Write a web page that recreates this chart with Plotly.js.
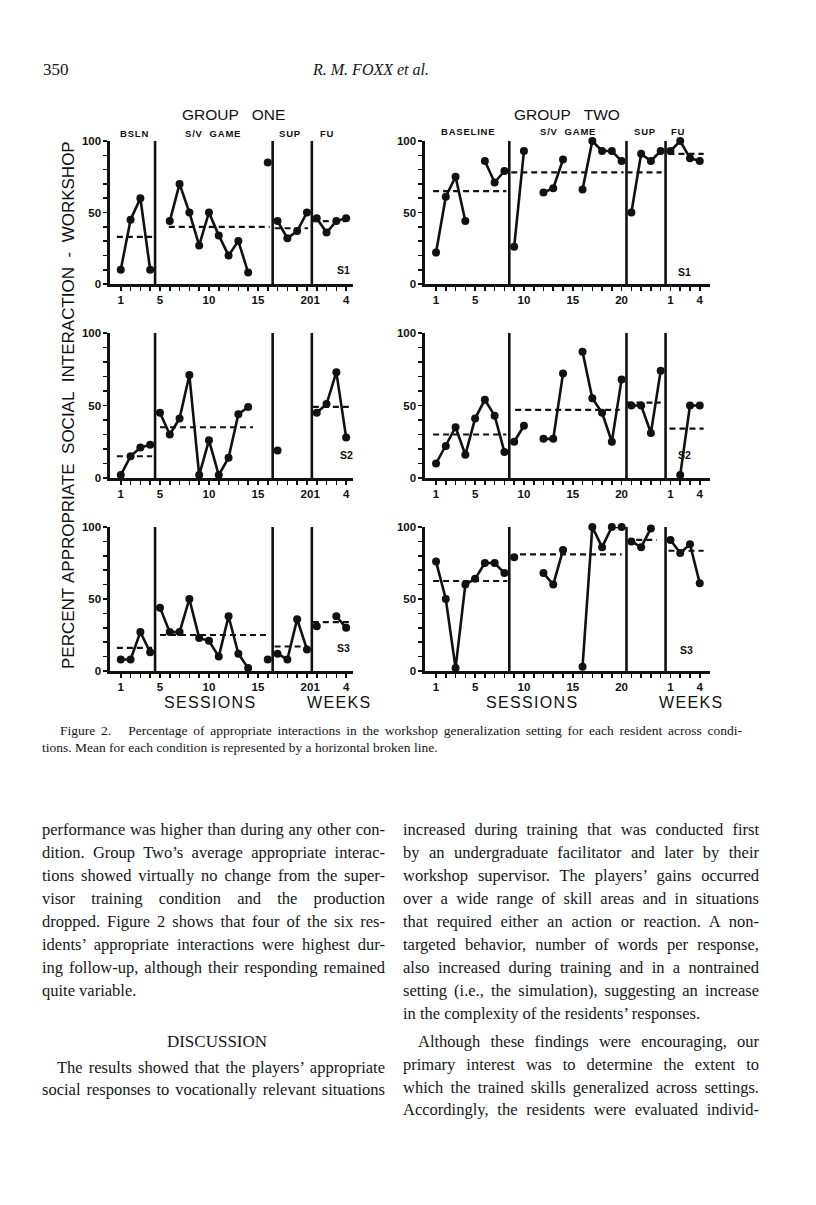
<!DOCTYPE html>
<html>
<head>
<meta charset="utf-8">
<script src="https://cdn.plot.ly/plotly-3.0.1.min.js"></script>
<style>
html,body{margin:0;padding:0;background:#fff;}
#page{position:relative;width:816px;height:1205px;overflow:hidden;background:#fff;}
#chart{position:absolute;left:0;top:0;width:816px;height:1205px;}
.t{position:absolute;font-family:"Liberation Serif","Times New Roman",serif;color:#151515;line-height:20px;white-space:nowrap;}
.j{text-align:justify;text-align-last:justify;}
</style>
</head>
<body>
<div id="page">
<div id="chart"></div>
</div>
<script>
// ---------------- DATA ----------------
// Group One: positions 1-20 = sessions, 21-24 = follow-up weeks 1-4
const groupOneSessions = [1,2,3,4,5,6,7,8,9,10,11,12,13,14,15,16,17,18,19,20,21,22,23,24];
const groupOneTickLabels = ['1','','','','5','','','','','10','','','','','15','','','','','20','1','','','4'];
const groupOnePhaseChanges = [4.5, 16.5, 20.5];
const groupOnePhaseNames = ['BSLN', 'S/V  GAME', 'SUP', 'FU'];

// Group Two: positions 1-24 = sessions, 25-28 = follow-up weeks 1-4
const groupTwoSessions = [1,2,3,4,5,6,7,8,9,10,11,12,13,14,15,16,17,18,19,20,21,22,23,24,25,26,27,28];
const groupTwoTickLabels = ['1','','','','5','','','','','10','','','','','15','','','','','20','','','','','1','','','4'];
const groupTwoPhaseChanges = [8.5, 20.5, 24.5];
const groupTwoPhaseNames = ['BASELINE', 'S/V  GAME', 'SUP', 'FU'];

// Percent appropriate social interaction (null = no session plotted)
const g1s1 = [10,45,60,10,null,44,70,50,27,50,34,20,30,8,null,85,44,32,37,50,46,36,44,46];
const g1s2 = [2,15,21,23,45,30,41,71,2,26,2,14,44,49,null,null,19,null,null,null,45,51,73,28];
const g1s3 = [8,8,27,13,44,27,27,50,23,21,10,38,12,2,null,8,12,8,36,15,31,null,38,30];
const g2s1 = [22,61,75,44,null,86,71,79,26,93,null,64,67,87,null,66,100,93,93,86,50,91,86,93,93,100,88,86];
const g2s2 = [10,22,35,16,41,54,43,18,25,36,null,27,27,72,null,87,55,45,25,68,50,50,31,74,null,2,50,50];
const g2s3 = [76,50,2,60,64,75,75,68,79,null,null,68,60,84,null,3,100,86,100,100,90,86,99,null,91,82,88,61];

// Condition means (broken lines) and the sessions each one spans
const g1s1Means = [33, 40, 39, 44];
const g1s1MeanFrom = [0.6, 5.9, 16.7, 20.6];
const g1s1MeanTo   = [4.2, 16.2, 20.1, 23.9];
const g1s2Means = [15, 35, null, 49];
const g1s2MeanFrom = [0.6, 5.0, null, 20.6];
const g1s2MeanTo   = [4.2, 14.5, null, 24.4];
const g1s3Means = [16, 25, 17, 34];
const g1s3MeanFrom = [0.6, 5.0, 16.7, 20.6];
const g1s3MeanTo   = [4.2, 16.0, 20.1, 24.3];
const g2s1Means = [65, 78, 78, 91];
const g2s1MeanFrom = [0.7, 8.7, 20.5, 24.8];
const g2s1MeanTo   = [8.2, 20.2, 24.1, 28.4];
const g2s2Means = [30, 47, 52, 34];
const g2s2MeanFrom = [0.7, 9.1, 20.5, 24.9];
const g2s2MeanTo   = [8.2, 19.8, 24.0, 28.4];
const g2s3Means = [62.5, 81, 91, 83.5];
const g2s3MeanFrom = [0.7, 9.6, 21.5, 24.8];
const g2s3MeanTo   = [8.3, 20.0, 23.6, 28.4];

const yTickValues = [0,10,20,30,40,50,60,70,80,90,100];
const yTickLabels = ['0','','','','','50','','','','','100'];
const residentLabels = ['S1','S2','S3'];

// ---------------- BUILD ----------------
const W = 816, H = 1205;
const px = v => v / W;
const py = v => 1 - v / H;
const FONT = '"Liberation Sans", Arial, sans-serif';

const groups = {
  1: {pos: groupOneSessions, ticks: groupOneTickLabels, phases: groupOnePhaseChanges,
      xdom: [110, 353], xrange: [-0.1, 24.7]},
  2: {pos: groupTwoSessions, ticks: groupTwoTickLabels, phases: groupTwoPhaseChanges,
      xdom: [425, 710], xrange: [-0.13, 29.05]}
};
const rows = [[141, 284], [333, 478], [527, 671]];

const panels = [
  {g:1, r:0, v:g1s1, m:g1s1Means, a:g1s1MeanFrom, b:g1s1MeanTo},
  {g:2, r:0, v:g2s1, m:g2s1Means, a:g2s1MeanFrom, b:g2s1MeanTo},
  {g:1, r:1, v:g1s2, m:g1s2Means, a:g1s2MeanFrom, b:g1s2MeanTo},
  {g:2, r:1, v:g2s2, m:g2s2Means, a:g2s2MeanFrom, b:g2s2MeanTo},
  {g:1, r:2, v:g1s3, m:g1s3Means, a:g1s3MeanFrom, b:g1s3MeanTo},
  {g:2, r:2, v:g2s3, m:g2s3Means, a:g2s3MeanFrom, b:g2s3MeanTo}
];

const traces = [];
const shapes = [];
const layout = {
  width: W, height: H,
  margin: {l:0, r:0, t:0, b:0},
  paper_bgcolor: 'rgba(0,0,0,0)', plot_bgcolor: 'rgba(0,0,0,0)',
  showlegend: false,
  font: {family: FONT, color: '#111'},
  annotations: []
};

panels.forEach((p, i) => {
  const k = i + 1;
  const xa = 'x' + (k === 1 ? '' : k), ya = 'y' + (k === 1 ? '' : k);
  const G = groups[p.g];
  // data line, broken at phase changes
  const xs = [], ys = [];
  G.pos.forEach((s, j) => {
    if (j > 0 && G.phases.some(c => c > G.pos[j-1] && c < s)) { xs.push(null); ys.push(null); }
    xs.push(s); ys.push(p.v[j]);
  });
  traces.push({x: xs, y: ys, xaxis: xa, yaxis: ya, type: 'scatter', mode: 'lines+markers',
    connectgaps: false, cliponaxis: false,
    line: {color: '#111', width: 2.6}, marker: {color: '#111', size: 8}, hoverinfo: 'skip'});
  // mean lines
  const mx = [], my = [];
  p.m.forEach((mv, j) => {
    if (mv === null) return;
    mx.push(p.a[j], p.b[j], null); my.push(mv, mv, null);
  });
  traces.push({x: mx, y: my, xaxis: xa, yaxis: ya, type: 'scatter', mode: 'lines',
    cliponaxis: false, line: {color: '#111', width: 2.2, dash: '6px,4px'}, hoverinfo: 'skip'});
  // phase change lines
  G.phases.forEach(c => shapes.push({type: 'line', xref: xa, yref: ya, x0: c, x1: c, y0: 0, y1: 100,
    line: {color: '#111', width: 2.6}}));

  const R = rows[p.r];
  layout['xaxis' + (k === 1 ? '' : k)] = {
    domain: [px(G.xdom[0]), px(G.xdom[1])], anchor: ya, range: G.xrange,
    showline: true, linecolor: '#111', linewidth: 2.6, showgrid: false, zeroline: false,
    ticks: 'outside', ticklen: 4, tickwidth: 1.6, tickcolor: '#111',
    tickmode: 'array', tickvals: G.pos, ticktext: G.ticks, tickangle: 0,
    tickfont: {family: FONT, size: 11.5, color: '#111', weight: 'bold'}, fixedrange: true
  };
  layout['yaxis' + (k === 1 ? '' : k)] = {
    domain: [py(R[1]), py(R[0])], anchor: xa, range: [0, 100],
    showline: true, linecolor: '#111', linewidth: 2.6, showgrid: false, zeroline: false,
    ticks: 'outside', ticklen: 4, tickwidth: 1.6, tickcolor: '#111',
    tickmode: 'array', tickvals: yTickValues, ticktext: yTickLabels,
    tickfont: {family: FONT, size: 11.5, color: '#111', weight: 'bold'}, fixedrange: true
  };
  // resident label
  const sxy = [[343,262],[693,264],[346,455],[693,455],[343,648],[695,650]][i];
  layout.annotations.push({xref:'paper', yref:'paper', x: px(sxy[0]), y: py(sxy[1]),
    text: residentLabels[p.r], showarrow: false, font: {family: FONT, size: 10.5, weight: 'bold'}});
});
layout.shapes = shapes;

function ann(text, x, y, size, extra) {
  layout.annotations.push(Object.assign({xref:'paper', yref:'paper', x: px(x), y: py(y),
    text: text, showarrow: false, xanchor: 'center', yanchor: 'middle',
    font: {family: FONT, size: size, color: '#111'}}, extra || {}));
}
const sp = s => s.split('').join('\u200a').replace(/ /g, '\u00a0');
ann('GROUP\u00a0\u00a0\u00a0ONE', 233, 114, 15.5);
ann('GROUP\u00a0\u00a0\u00a0TWO', 567, 115, 15.5);
const g1PhaseX = [134, 212, 290, 327];
const g2PhaseX = [468, 567, 645, 678];
const phaseFont = {family: FONT, size: 9.5, weight: 'bold', color: '#111'};
groupOnePhaseNames.forEach((n, j) => ann(sp(n), g1PhaseX[j], 133, 9.5, {font: phaseFont}));
groupTwoPhaseNames.forEach((n, j) => ann(sp(n), g2PhaseX[j], 131, 9.5, {font: phaseFont}));
ann(sp('SESSIONS'), 210, 702, 16);
ann(sp('WEEKS'), 338, 702, 16);
ann(sp('SESSIONS'), 531, 702, 16);
ann(sp('WEEKS'), 690, 702, 16);
ann('PERCENT\u00a0APPROPRIATE\u00a0\u00a0SOCIAL\u00a0\u00a0INTERACTION\u00a0\u00a0-\u00a0\u00a0WORKSHOP', 68, 405, 17, {textangle: -90});

Plotly.newPlot('chart', traces, layout, {staticPlot: true, displayModeBar: false});

// ---------------- PAGE TEXT ----------------
const page = document.getElementById('page');
function line(text, left, cy, width, size, opts) {
  opts = opts || {};
  const d = document.createElement('div');
  d.className = 't';
  const s = document.createElement('span');
  s.textContent = text;
  d.appendChild(s);
  d.style.left = left + 'px';
  d.style.top = (cy - 10) + 'px';
  if (width) d.style.width = width + 'px';
  d.style.fontSize = size + 'px';
  if (opts.italic) d.style.fontStyle = 'italic';
  if (opts.center) d.style.textAlign = 'center';
  page.appendChild(d);
  if (opts.just && width) {
    const w = s.getBoundingClientRect().width;
    if (w > width - 2) d.style.letterSpacing = ((width - 2 - w) / text.length).toFixed(3) + 'px';
    d.classList.add('j');
  }
}
line('350', 43, 70, null, 17);
line('R. M. FOXX et al.', 313, 70, null, 16, {italic: true});

const capSize = 13.5;
line('Figure 2.\u00a0\u00a0 Percentage of appropriate interactions in the workshop generalization setting for each resident across condi-', 60, 731, 682, capSize, {just: true});
line('tions. Mean for each condition is represented by a horizontal broken line.', 42, 748, null, capSize);

const bodySize = 16.5;
const leftLines = [
  'performance was higher than during any other con-',
  'dition. Group Two\u2019s average appropriate interac-',
  'tions showed virtually no change from the super-',
  'visor training condition and the production',
  'dropped. Figure 2 shows that four of the six res-',
  'idents\u2019 appropriate interactions were highest dur-',
  'ing follow-up, although their responding remained'
];
leftLines.forEach((t, j) => line(t, 42, 830 + j * 23, 343, bodySize, {just: true}));
line('quite variable.', 42, 830 + 7 * 23, null, bodySize);
line('DISCUSSION', 42, 1042, 350, 17, {center: true});
line('The results showed that the players\u2019 appropriate', 57, 1068, 328, bodySize, {just: true});
line('social responses to vocationally relevant situations', 42, 1090, 343, bodySize, {just: true});

const rightLines = [
  'increased during training that was conducted first',
  'by an undergraduate facilitator and later by their',
  'workshop supervisor. The players\u2019 gains occurred',
  'over a wide range of skill areas and in situations',
  'that required either an action or reaction. A non-',
  'targeted behavior, number of words per response,',
  'also increased during training and in a nontrained',
  'setting (i.e., the simulation), suggesting an increase'
];
rightLines.forEach((t, j) => line(t, 403, 830 + j * 23, 356, bodySize, {just: true}));
line('in the complexity of the residents\u2019 responses.', 403, 1014, null, bodySize);
line('Although these findings were encouraging, our', 418, 1042, 341, bodySize, {just: true});
line('primary interest was to determine the extent to', 403, 1065, 356, bodySize, {just: true});
line('which the trained skills generalized across settings.', 403, 1088, 356, bodySize, {just: true});
line('Accordingly, the residents were evaluated individ-', 403, 1110, 356, bodySize, {just: true});
</script>
</body>
</html>
